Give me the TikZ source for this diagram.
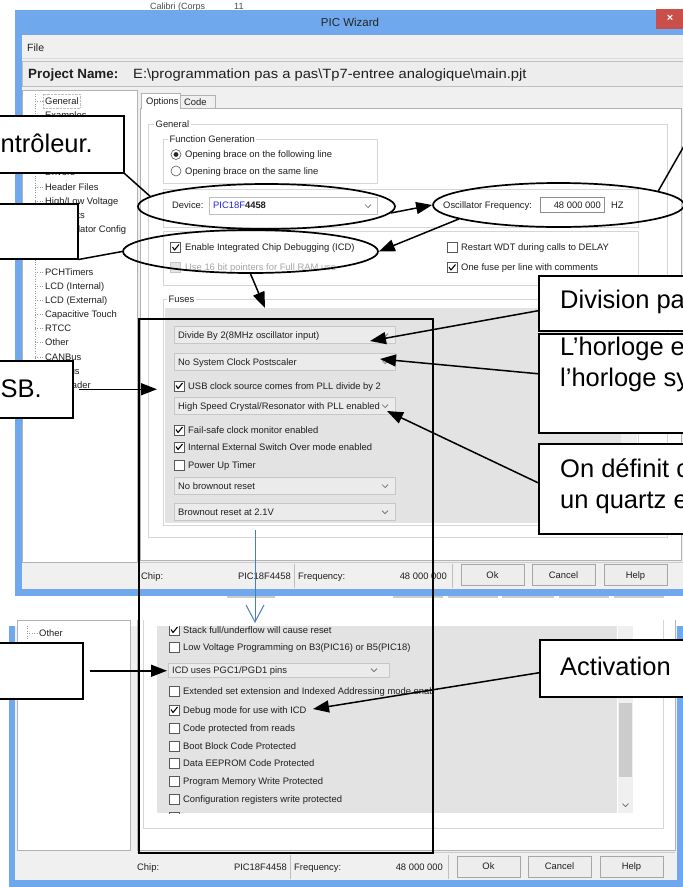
\documentclass[tikz,border=0pt]{standalone}
\usepackage{fontspec}
\setmainfont{Liberation Sans}
\newfontfamily\projfont[FakeStretch=1.1]{Liberation Sans}
\usetikzlibrary{arrows.meta,shapes.geometric}

\definecolor{winblue}{HTML}{6FA8EC}
\definecolor{winface}{HTML}{F0F0F0}
\definecolor{fusegray}{HTML}{E3E3E3}
\definecolor{combogray}{HTML}{EBEBEB}
\definecolor{closered}{HTML}{C9504A}
\definecolor{chipblue}{HTML}{2424E0}
\definecolor{flowblue}{HTML}{4A7EBB}

\newcommand\uisize{\fontsize{9.4}{11}\selectfont}

\tikzset{
  ui/.style={font=\uisize, text=black!88, inner sep=0pt, anchor=west, text height=6.7pt, text depth=0pt},
  uiright/.style={ui, anchor=east},
  notebox/.style={draw, line width=1.5pt, fill=white, inner sep=0pt, anchor=north west},
  notetext/.style={font=\fontsize{25.5}{30}\selectfont, inner sep=0pt, anchor=base west},
  ring/.style={ellipse, draw, line width=1.7pt, inner sep=0pt},
  callarrow/.style={line width=1.5pt, -{Triangle[length=16pt,width=12pt]}},
  combo/.style={fill=combogray, draw=black!22, line width=0.6pt},
  group/.style={draw=black!16, line width=0.6pt},
}

% check box, ticked box, drop-down mark, centred on (#1,#2)
\newcommand\cbox[2]{\filldraw[fill=white, draw=black!65, line width=0.6pt] (#1-5,#2-5) rectangle (#1+5,#2+5);}
\newcommand\cmark[2]{\cbox{#1}{#2}\draw[line width=1.1pt, line join=round] (#1-3,#2-0.5) -- (#1-1,#2+2.5) -- (#1+3.5,#2-3);}
\newcommand\chev[2]{\draw[line width=0.7pt, black!60] (#1-3,#2-1.5) -- (#1,#2+1.5) -- (#1+3,#2-1.5);}

\begin{document}
\begin{tikzpicture}[x=1pt,y=-1pt]
\useasboundingbox (0,0) rectangle (683,887);
\clip (0,0) rectangle (683,887);
\fill[white] (0,0) rectangle (683,887);
% Word ribbon behind the wizard
\node[font=\fontsize{9}{10}\selectfont, inner sep=0pt, anchor=base west, text=black!70] (ribFont) at (150,9.5) {Calibri (Corps};
\node[font=\fontsize{9}{10}\selectfont, inner sep=0pt, anchor=base west, text=black!70] (ribSize) at (234,9.5) {11};

% ---- upper screenshot: PIC Wizard window ----
\fill[winblue] (15,10) rectangle (690,596);
\node[font=\fontsize{11.5}{13}\selectfont, text=black!85, inner sep=0pt] (title) at (350,22) {PIC Wizard};
\fill[closered] (656,9) rectangle (690,29);
\node[font=\fontsize{11}{12}\selectfont\bfseries, text=white, inner sep=0pt] (close) at (670,18) {×};
\fill[winface] (22,35) rectangle (690,589);
% menu and project line
\node[ui, font=\fontsize{10.5}{12}\selectfont, text height=7.5pt] (menuFile) at (27,48) {File};
\draw[black!15] (22,58.5) -- (690,58.5);
\filldraw[fill=black!7, draw=black!25] (22,61) rectangle (690,86);
\node[ui, font=\fontsize{13.4}{15}\selectfont\bfseries, text height=9.6pt] (projLbl) at (28,73.5) {Project Name:};
\node[ui, font=\projfont\fontsize{13.4}{15}\selectfont, text height=9.6pt] (projPath) at (133,73.5) {E:\textbackslash programmation pas a pas\textbackslash Tp7-entree analogique\textbackslash main.pjt};

% tree panel
\filldraw[fill=white, draw=black!30] (22,90) rectangle (137,562);
\draw[black!40, dotted] (35,94) -- (35,385);
\foreach \y/\t [count=\k] in {101/General, 115/Examples, 172/Drivers, 187/Header Files,
    201/{High/Low Voltage}, 215/Interrupts, 272/PCHTimers,
    286/LCD (Internal), 300/LCD (External), 314/Capacitive Touch, 328/RTCC,
    342/Other, 357/CANBus, 371/ModBus, 385/Bootloader}{
  \draw[black!40, dotted] (35,\y) -- (43,\y);
  \node[ui] (tree\k) at (45,\y) {\t};
}
\node[ui] (treeOsc) at (57,229) {Oscillator Config};
\draw[black!25, densely dotted] (43,94) rectangle (80,108);

% tabs and page
\filldraw[fill=white, draw=black!30] (140,108.5) rectangle (681,560);
\filldraw[fill=winface, draw=black!30] (180,95) rectangle (215,108.5);
\filldraw[fill=white, draw=black!30] (141,93) rectangle (180,108.5);
\fill[white] (141.5,107) rectangle (179.5,110);
\node[ui] (tabOpt) at (146,101) {Options};
\node[ui] (tabCode) at (184,102) {Code};

% General group
\draw[group] (148,124) rectangle (667,537);
\node[ui, fill=white, inner xsep=1.5pt] (grpGen) at (154,124) {General};
\draw[group] (163,139) rectangle (377,183);
\node[ui, fill=white, inner xsep=1.5pt] (grpFunc) at (168,139) {Function Generation};
\filldraw[fill=white, draw=black!65, line width=0.6pt] (176,154.5) circle (5pt);
\fill[black!85] (176,154.5) circle (2.4pt);
\node[ui] (radFollow) at (185,154.5) {Opening brace on the following line};
\filldraw[fill=white, draw=black!65, line width=0.6pt] (176,171) circle (5pt);
\node[ui] (radSame) at (185,171) {Opening brace on the same line};

% device and oscillator line
\draw[group] (163,189) rectangle (638,227);
\node[ui] (devLbl) at (172,205) {Device:};
\filldraw[fill=white, draw=black!25] (209,197) rectangle (377,214);
\node[ui] (devChip) at (213,205.5) {\textcolor{chipblue}{PIC18F}\textbf{4458}};
\chev{368}{206}
\node[ui] (oscLbl) at (443,205) {Oscillator Frequency:};
\filldraw[fill=white, draw=black!45] (540,197) rectangle (604,212);
\node[uiright] (oscVal) at (601,205) {48 000 000};
\node[ui] (oscUnit) at (611,205) {HZ};

% options
\draw[group] (163,231) rectangle (638,285);
\cmark{175.5}{247.5}
\node[ui] (optIcd) at (185,247.5) {Enable Integrated Chip Debugging (ICD)};
\filldraw[fill=black!10, draw=black!22] (170.5,262) rectangle (180.5,272);
\node[ui, text=black!35] (optPtr) at (185,267) {Use 16 bit pointers for Full RAM use};
\cbox{452}{247}
\node[ui] (optWdt) at (461,247) {Restart WDT during calls to DELAY};
\cmark{452}{267.5}
\node[ui] (optFuse) at (461,267.5) {One fuse per line with comments};

% Fuses list
\draw[group] (163,299) rectangle (638,525);
\node[ui, fill=white, inner xsep=1.5pt] (grpFuses) at (167,299) {Fuses};
\fill[fusegray] (164.5,308) rectangle (621,523);
\fill[winface] (621,308) rectangle (637,523);
\foreach \y/\t [count=\k] in {335/{Divide By 2(8MHz oscillator input)}, 362/{No System Clock Postscaler},
    406/{High Speed Crystal/Resonator with PLL enabled}, 486/{No brownout reset}, 512/{Brownout reset at 2.1V}}{
  \filldraw[combo] (174,\y-8.5) rectangle (395,\y+8.5);
  \chev{385}{\y}
  \node[ui] (fuseSel\k) at (178,\y) {\t};
}
\foreach \y/\c/\t [count=\k] in {386/1/{USB clock source comes from PLL divide by 2}, 430/1/{Fail-safe clock monitor enabled},
    447/1/{Internal External Switch Over mode enabled}, 465/0/{Power Up Timer}}{
  \ifnum\c=1 \cmark{179}{\y}\else\cbox{179}{\y}\fi
  \node[ui] (fuseChk\k) at (188,\y) {\t};
}

% status bar
\draw[black!20] (137,562) -- (690,562);
\node[ui] (stChip) at (141,576) {Chip:};
\node[uiright] (stChipVal) at (291,576) {PIC18F4458};
\draw[black!25] (294,564) -- (294,588);
\node[ui] (stFreq) at (298,576) {Frequency:};
\node[uiright] (stFreqVal) at (447,576) {48 000 000};
\draw[black!25] (452,564) -- (452,588);
\foreach \x/\t [count=\k] in {461/Ok, 532/Cancel, 604/Help}{
  \filldraw[fill=black!7, draw=black!35] (\x,564) rectangle (\x+63,585);
  \node[ui, anchor=center] (btnTop\k) at (\x+31.5,575) {\t};
}
% window underneath, seen in the gap
\foreach \a/\b in {227/275, 393/443, 448/498, 502/554, 559/609, 614/664}
  \fill[black!20] (\a,596) rectangle (\b,598);

% ---- lower screenshot: end of the fuse list ----
\fill[winblue] (9,626) rectangle (690,887);
\fill[winface] (15,626) rectangle (677,880);
\filldraw[fill=white, draw=black!30] (17,620) rectangle (130,850);
\draw[black!40, dotted] (27,626) -- (27,640);
\draw[black!40, dotted] (27,633) -- (37,633);
\node[ui] (treeOther) at (39,633) {Other};
\fill[white] (137,626) rectangle (675,850);
\draw[black!30] (137,620) -- (137,850) -- (675,850) -- (675,620);
\draw[group] (143,620) -- (143,828) -- (663,828) -- (663,620);
\fill[fusegray] (157,626) rectangle (617,813);
\fill[winface] (618,626) rectangle (633,813);
\fill[black!20] (619,703) rectangle (632,777);
\chev{625.5}{805}
\begin{scope}
\clip (157,626) rectangle (617,813);
\foreach \y/\c/\t [count=\k] in {630/1/{Stack full/underflow will cause reset},
    647/0/{Low Voltage Programming on B3(PIC16) or B5(PIC18)},
    691/0/{Extended set extension and Indexed Addressing mode enab},
    710/1/{Debug mode for use with ICD}, 728/0/{Code protected from reads},
    746/0/{Boot Block Code Protected}, 763/0/{Data EEPROM Code Protected},
    781/0/{Program Memory Write Protected}, 799/0/{Configuration registers write protected}}{
  \ifnum\c=1 \cmark{174}{\y}\else\cbox{174}{\y}\fi
  \node[ui] (lowChk\k) at (183,\y) {\t};
}
\cbox{174}{817}
\end{scope}
\filldraw[combo] (168,663) rectangle (389,677);
\chev{374}{670}
\node[ui] (lowSel) at (172,670) {ICD uses PGC1/PGD1 pins};
% status bar
\draw[black!20] (137,852) -- (675,852);
\node[ui] (stChipB) at (137,867) {Chip:};
\node[uiright] (stChipValB) at (287,867) {PIC18F4458};
\draw[black!25] (290,855) -- (290,879);
\node[ui] (stFreqB) at (294,867) {Frequency:};
\node[uiright] (stFreqValB) at (443,867) {48 000 000};
\draw[black!25] (448,855) -- (448,879);
\foreach \x/\t [count=\k] in {457/Ok, 528/Cancel, 600/Help}{
  \filldraw[fill=black!7, draw=black!35] (\x,856) rectangle (\x+63,877);
  \node[ui, anchor=center] (btnLow\k) at (\x+31.5,866.5) {\t};
}

% ---- annotations ----
\draw[line width=1.8pt] (139,319) rectangle (433,853);
\node[ring, minimum width=257pt, minimum height=45pt] (ellDevice) at (266.5,206.5) {};
\node[ring, minimum width=255pt, minimum height=43pt] (ellICD) at (250.5,251.5) {};
\node[ring, minimum width=251pt, minimum height=44pt] (ellOsc) at (558.5,205) {};
% callout boxes (cut by the page edge)
\node[notebox, minimum width=133pt, minimum height=57pt] (boxMicro) at (-10,115) {};
\node[notetext, anchor=base east] (txtMicro) at (93,152) {ntrôleur.};
\node[notebox, minimum width=87pt, minimum height=55pt] (boxICDl) at (-10,203) {};
\node[notebox, minimum width=82pt, minimum height=57pt] (boxUSB) at (-10,360) {};
\node[notetext, anchor=base east] (txtUSB) at (42,397) {SB.};
\node[notebox, minimum width=92pt, minimum height=56pt] (boxPins) at (-10,642) {};
\node[notebox, minimum width=160pt, minimum height=55pt] (boxDiv) at (538,275) {};
\node[notetext] (txtDiv) at (560,308) {Division pa};
\node[notebox, minimum width=160pt, minimum height=99pt] (boxHorloge) at (538,333) {};
\node[notetext] (txtHorA) at (560,355) {L’horloge e};
\node[notetext] (txtHorB) at (560,386) {l’horloge sy};
\node[notebox, minimum width=160pt, minimum height=90pt] (boxQuartz) at (538,443) {};
\node[notetext] (txtQzA) at (560,477) {On définit c};
\node[notetext] (txtQzB) at (560,508) {un quartz e};
\node[notebox, minimum width=160pt, minimum height=57pt] (boxActiv) at (539,639) {};
\node[notetext] (txtActiv) at (560,675) {Activation};
% arrow ends
\coordinate (oscNote) at (700,118);
\coordinate (tipFuses) at (265,308);
\coordinate (tipDiv) at (370,341);
\coordinate (tipPost) at (380,359);
\coordinate (tipPll) at (387,411);
\coordinate (tipUsb) at (157,388);
\coordinate (tipPins) at (167,670);
\coordinate (tipDebug) at (313,709);
\coordinate (flowTop) at (255,530);
\coordinate (flowEnd) at (255,623);
% connectors
\draw[line width=1.5pt] (boxMicro.south east) -- (ellDevice.175);
\draw[line width=1.5pt] (boxICDl.south east) -- (ellICD.west);
\draw[line width=1.5pt] (oscNote) -- (ellOsc.8);
\draw[callarrow] (ellDevice.-3) -- (ellOsc.west);
\draw[callarrow] (ellOsc.188) -- (ellICD.east);
\draw[callarrow] (ellICD.south) -- (tipFuses);
\draw[callarrow] ([yshift=-7.5pt]boxDiv.west) -- (tipDiv);
\draw[callarrow] ([yshift=9.5pt]boxHorloge.west) -- (tipPost);
\draw[callarrow] ([yshift=6pt]boxQuartz.west) -- (tipPll);
\draw[callarrow, shorten <=5pt] (boxUSB.east) -- (boxUSB.east -| tipUsb);
\draw[callarrow, shorten <=6pt] (boxPins.east) -- (boxPins.east -| tipPins);
\draw[callarrow] ([yshift=-4.5pt]boxActiv.west) -- (tipDebug);
\draw[flowblue, line width=1pt, -{Straight Barb[length=17pt,width=18pt]}] (flowTop) -- (flowEnd);
\end{tikzpicture}
\end{document}
